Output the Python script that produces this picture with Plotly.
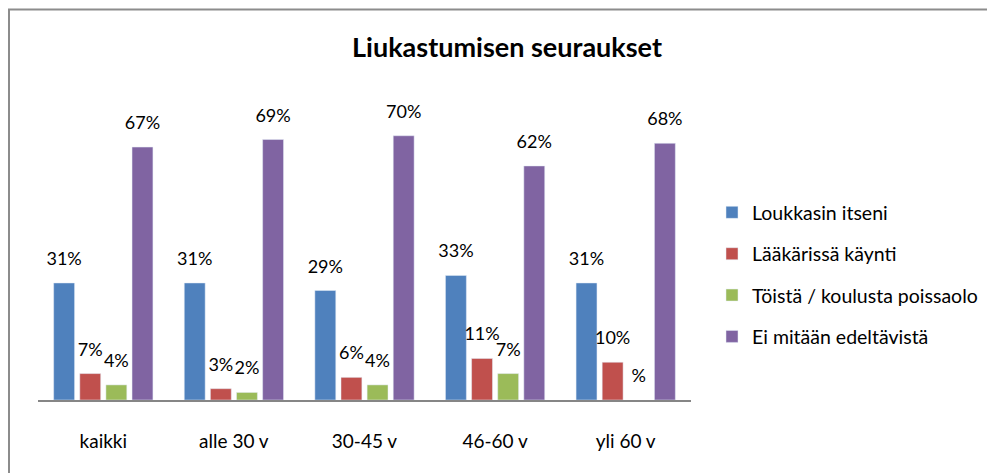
import plotly.graph_objects as go

# ---- data ----
categories = ["kaikki", "alle 30 v", "30-45 v", "46-60 v", "yli 60 v"]
series_names = ["Loukkasin itseni", "Lääkärissä käynti",
                "Töistä / koulusta poissaolo", "Ei mitään edeltävistä"]
loukkasin = [31, 31, 29, 33, 31]
laakarissa = [7, 3, 6, 11, 10]
poissaolo = [4, 2, 4, 7, None]
ei_mitaan = [67, 69, 70, 62, 68]
series_values = [loukkasin, laakarissa, poissaolo, ei_mitaan]
colors = ["#4F81BD", "#C0504D", "#9BBB59", "#8064A2"]

FONT = "Lato, 'Open Sans', sans-serif"

fig = go.Figure()
for i, (name, vals, col) in enumerate(zip(series_names, series_values, colors)):
    fig.add_trace(go.Bar(
        x=categories, y=vals, name=name, marker_color=col,
        legendgroup=f"g{i}", offsetgroup=f"g{i}",
        hoverinfo="skip",
    ))
for i, vals in enumerate(series_values):
    labels = ["%" if v is None else f"{v}%" for v in vals]
    ys = [0 if v is None else v for v in vals]
    fig.add_trace(go.Scatter(
        x=categories, y=ys, text=labels, mode="markers+text",
        textposition="top center", offsetgroup=f"g{i}",
        marker=dict(size=20, opacity=0),
        textfont=dict(family=FONT, size=18, color="#000000"),
        showlegend=False, hoverinfo="skip", cliponaxis=False,
    ))

# plot area: 653 x 302 px
fig.update_layout(
    width=995, height=473,
    margin=dict(l=30, r=312, t=90, b=81, autoexpand=False),
    paper_bgcolor="white", plot_bgcolor="white",
    barmode="group", bargap=0.2, bargroupgap=0.2,
    scattermode="group", scattergap=0.2,
    title=dict(text="<b>Liukastumisen seuraukset</b>", xref="container", yref="container",
               x=499 / 995, y=1 - 40 / 473, xanchor="center", yanchor="middle",
               font=dict(family=FONT, size=27, color="#000000")),
    legend=dict(xref="container", x=704 / 995, xanchor="left",
                yref="paper", y=0.415, yanchor="middle",
                font=dict(family=FONT, size=19.5, color="#000000"),
                traceorder="grouped", tracegroupgap=13, bgcolor="rgba(0,0,0,0)"),
    xaxis=dict(showline=True, linecolor="#868686", linewidth=2, showgrid=False,
               ticks="", ticklabelstandoff=23,
               tickfont=dict(family=FONT, size=19, color="#000000")),
    yaxis=dict(range=[0, 80], visible=False, showgrid=False, zeroline=False),
    shapes=[dict(type="rect", xref="paper", yref="paper",
                 x0=(1 - 30) / 653, x1=3, y0=-1, y1=(392 - 1.5) / 302,
                 line=dict(color="#8C8C8C", width=2), layer="above")],
    showlegend=True,
)

fig.write_html("out.html")
